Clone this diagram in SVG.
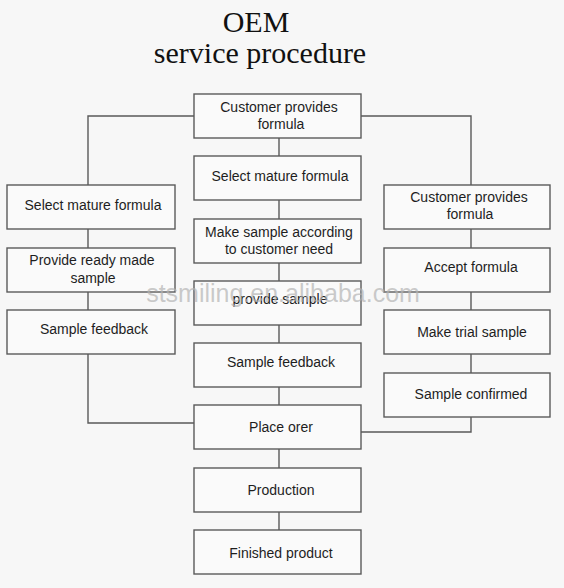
<svg xmlns="http://www.w3.org/2000/svg" width="564" height="588" viewBox="0 0 564 588">
<style>
.box{fill:#fafafa;stroke:#5a5a5a;stroke-width:1.4}
.t{font-family:"Liberation Sans",Arial,sans-serif;font-size:14px;fill:#1e1e1e;text-anchor:middle}
.title{font-family:"Liberation Serif","Times New Roman",serif;font-size:30px;fill:#111;text-anchor:middle}
.c{fill:none;stroke:#5a5a5a;stroke-width:1.4}
.wm{font-family:"Liberation Sans",Arial,sans-serif;font-size:25px;fill:#b4b4b4;fill-opacity:0.7;text-anchor:middle}
</style>
<rect width="564" height="588" fill="#f7f7f7"/>
<text class="title" x="256" y="32">OEM</text>
<text class="title" x="260" y="63">service procedure</text>
<g id="connectors">
<path class="c" d="M194 116H88V185M88 229V248M88 292V310M88 354V423H194"/>
<path class="c" d="M361 116H471V185M471 229V248M471 292V310M471 354V373M471 417V432H361"/>
<path class="c" d="M279 138V156M279 200V219M279 263V281M279 325V343M279 387V405M279 449V468M279 512V530"/>
</g>
<g id="n_top"><rect class="box" x="194" y="94" width="167" height="44"/><text class="t" x="279" y="112">Customer provides</text><text class="t" x="281" y="129">formula</text></g>
<g id="n_c1"><rect class="box" x="194" y="156" width="167" height="44"/><text class="t" x="280" y="181">Select mature formula</text></g>
<g id="n_c2"><rect class="box" x="194" y="219" width="167" height="44"/><text class="t" x="279" y="237">Make sample according</text><text class="t" x="279" y="254">to customer need</text></g>
<g id="n_c3"><rect class="box" x="194" y="281" width="167" height="44"/><text class="t" x="280" y="304">provide sample</text></g>
<g id="n_c4"><rect class="box" x="194" y="343" width="167" height="44"/><text class="t" x="281" y="367">Sample feedback</text></g>
<g id="n_c5"><rect class="box" x="194" y="405" width="167" height="44"/><text class="t" x="281" y="432">Place orer</text></g>
<g id="n_c6"><rect class="box" x="194" y="468" width="167" height="44"/><text class="t" x="281" y="495">Production</text></g>
<g id="n_c7"><rect class="box" x="194" y="530" width="167" height="44"/><text class="t" x="281" y="558">Finished product</text></g>
<g id="n_l1"><rect class="box" x="7" y="185" width="168" height="44"/><text class="t" x="93" y="210">Select mature formula</text></g>
<g id="n_l2"><rect class="box" x="7" y="248" width="168" height="44"/><text class="t" x="92" y="265">Provide ready made</text><text class="t" x="93" y="283">sample</text></g>
<g id="n_l3"><rect class="box" x="7" y="310" width="168" height="44"/><text class="t" x="94" y="334">Sample feedback</text></g>
<g id="n_r1"><rect class="box" x="384" y="185" width="166" height="44"/><text class="t" x="469" y="202">Customer provides</text><text class="t" x="470" y="219">formula</text></g>
<g id="n_r2"><rect class="box" x="384" y="248" width="166" height="44"/><text class="t" x="471" y="272">Accept formula</text></g>
<g id="n_r3"><rect class="box" x="384" y="310" width="166" height="44"/><text class="t" x="472" y="337">Make trial sample</text></g>
<g id="n_r4"><rect class="box" x="384" y="373" width="166" height="44"/><text class="t" x="471" y="399">Sample confirmed</text></g>
<text class="wm" x="283" y="302">stsmiling.en.alibaba.com</text>
</svg>
